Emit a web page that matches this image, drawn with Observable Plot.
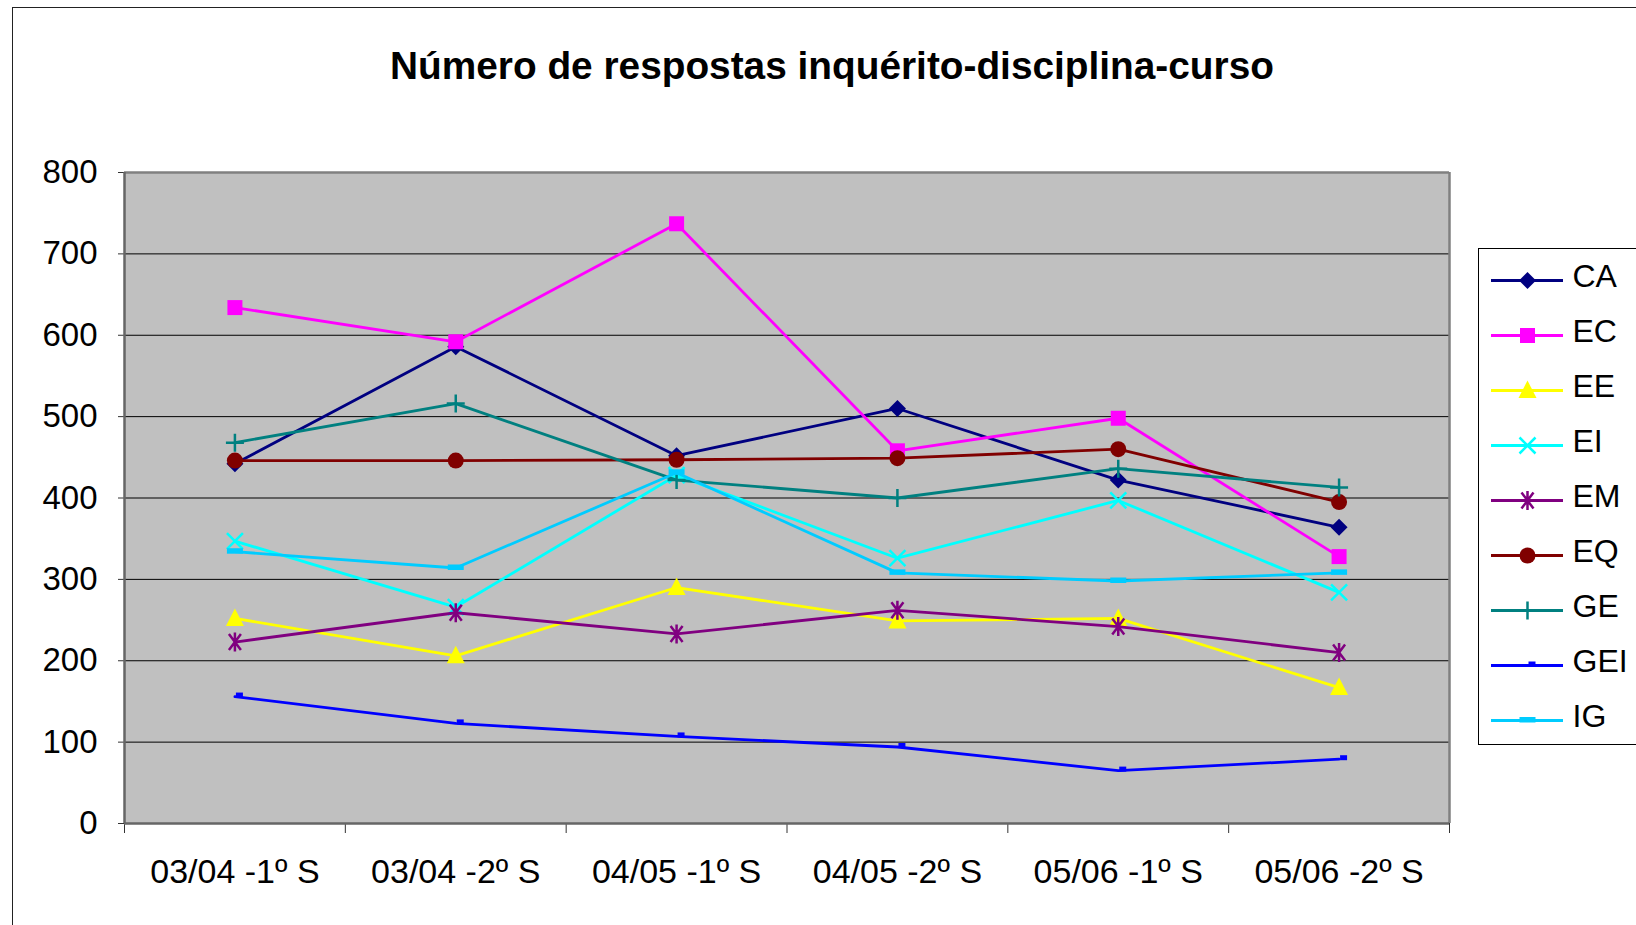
<!DOCTYPE html>
<html><head><meta charset="utf-8">
<script src="https://cdn.jsdelivr.net/npm/d3@7"></script>
<script src="https://cdn.jsdelivr.net/npm/@observablehq/plot@0.6"></script>
<style>
html,body{margin:0;padding:0;background:#fff;}
body{width:1636px;height:925px;overflow:hidden;position:relative;font-family:"Liberation Sans",Arial,sans-serif;}
#frame{position:absolute;left:12px;top:7px;width:1700px;height:1000px;border-left:1.5px solid #222;border-top:1.5px solid #222;box-sizing:border-box;z-index:5;pointer-events:none;}
#title{height:100px;box-sizing:border-box;padding-top:44px;padding-left:28px;text-align:center;font-size:38.8px;line-height:44px;font-weight:bold;color:#000;}
#legend{position:absolute;left:1478px;top:248px;width:220px;height:497px;border:1.5px solid #000;box-sizing:border-box;background:#fff;z-index:4;}
</style></head>
<body>
<div id="frame"></div>
<div id="title">Número de respostas inquérito-disciplina-curso</div>
<div id="chart"></div>
<div id="legend"></div>
<script>
const categories = ["03/04 -1º S","03/04 -2º S","04/05 -1º S","04/05 -2º S","05/06 -1º S","05/06 -2º S"];
const seriesNames = ["CA","EC","EE","EI","EM","EQ","GE","GEI","IG"];
const CA  = [442, 586, 452, 510, 422, 364];
const EC  = [634, 592, 737, 458, 498, 328];
const EE  = [252, 206, 290, 249, 252, 167];
const EI  = [347, 266, 428, 326, 397, 284];
const EM  = [223, 259, 233, 262, 242, 210];
const EQ  = [446, 446, 447, 449, 460, 395];
const GE  = [468, 516, 422, 400, 436, 413];
const GEI = [156, 123, 107, 94, 65, 79];
const IG  = [334, 314, 431, 308, 298, 308];
const seriesColors = ["#000080","#FF00FF","#FFFF00","#00FFFF","#800080","#800000","#008080","#0000FF","#00CCFF"];
const yTicks = [0,100,200,300,400,500,600,700,800];

const values = {CA, EC, EE, EI, EM, EQ, GE, GEI, IG};

const symbols = {
  CA: {draw(c){const r=8.5; c.moveTo(0,-r); c.lineTo(r,0); c.lineTo(0,r); c.lineTo(-r,0); c.closePath();}},
  EC: {draw(c){const h=7.5; c.rect(-h,-h,2*h,2*h);}},
  EE: {draw(c){c.moveTo(0,-10); c.lineTo(9,7.5); c.lineTo(-9,7.5); c.closePath();}},
  EI: {draw(c){const r=8; c.moveTo(-r,-r); c.lineTo(r,r); c.moveTo(-r,r); c.lineTo(r,-r);}},
  EM: {draw(c){c.moveTo(0,-9.5); c.lineTo(0,9.5); c.moveTo(-6,-8); c.lineTo(6,8); c.moveTo(-6,8); c.lineTo(6,-8);}},
  EQ: {draw(c){c.moveTo(8,0); c.arc(0,0,8,0,2*Math.PI);}},
  GE: {draw(c){c.moveTo(0,-9); c.lineTo(0,9); c.moveTo(-9,0); c.lineTo(9,0);}},
  GEI:{draw(c){c.rect(1,-4,7,5);}},
  IG: {draw(c){c.rect(-8,-3.5,16,5.5);}}
};
const filled = {CA:true, EC:true, EE:true, EI:false, EM:false, EQ:true, GE:false, GEI:true, IG:true};

const rows = [];
seriesNames.forEach((s) => values[s].forEach((v, i) => rows.push({series: s, idx: i + 0.5, cat: categories[i], value: v})));

const marks = [
  Plot.frame({fill: "#C0C0C0", stroke: null}),
  Plot.gridY(yTicks.filter(d => d > 0 && d < 800), {stroke: "#000", strokeOpacity: 1, strokeWidth: 1}),
  Plot.ruleY([800], {stroke: "#808080", strokeWidth: 2.5}),
  Plot.ruleX([6], {stroke: "#808080", strokeWidth: 2.5}),
  Plot.axisY({ticks: yTicks, tickSize: 6, tickPadding: 21, fontSize: 33, tickFormat: d => String(d), stroke: "#333", label: null}),
  Plot.axisX({ticks: d3.range(0, 7), tickSize: 10, tickFormat: () => "", stroke: "#333", label: null}),
  Plot.axisX({ticks: categories.map((d, i) => i + 0.5), tickSize: 0, tickPadding: 35, fontSize: 34, tickFormat: d => categories[Math.round(d - 0.5)], label: null}),
];
seriesNames.forEach((s, k) => {
  const data = rows.filter(r => r.series === s);
  const col = seriesColors[k];
  marks.push(Plot.line(data, {x: "idx", y: "value", stroke: col, strokeWidth: 2.8}));
  marks.push(Plot.dot(data, {x: "idx", y: "value", symbol: symbols[s],
    fill: filled[s] ? col : "none", stroke: filled[s] ? "none" : col, strokeWidth: 2.5}));
});
marks.push(Plot.ruleX([0], {stroke: "#666", strokeWidth: 2.5}));
marks.push(Plot.ruleY([0], {stroke: "#666", strokeWidth: 2.5}));

const chart = Plot.plot({
  width: 1636, height: 825,
  marginTop: 72, marginBottom: 102, marginLeft: 124, marginRight: 187,
  x: {domain: [0, 6], axis: null},
  y: {domain: [0, 800], axis: null},
  style: {fontFamily: "'Liberation Sans', Arial, sans-serif", background: "transparent", color: "#000"},
  marks
});
document.getElementById("chart").appendChild(chart);

// legend
const legMarks = [];
seriesNames.forEach((s, k) => {
  const col = seriesColors[k];
  legMarks.push(Plot.ruleY([s], {y: d => d, x1: 0, x2: 1, stroke: col, strokeWidth: 2.8}));
  legMarks.push(Plot.dot([s], {x: 0.5, y: d => d, symbol: symbols[s], fill: filled[s] ? col : "none", stroke: filled[s] ? "none" : col, strokeWidth: 2.5}));
});
legMarks.push(Plot.text(seriesNames, {x: 1, y: d => d, text: d => d, dx: 9, dy: -4, textAnchor: "start", fontSize: 32, fill: "#000"}));
const legend = Plot.plot({
  width: 217, height: 494, margin: 0,
  x: {domain: [0, 1], range: [12, 84], axis: null},
  y: {type: "point", domain: seriesNames, range: [31, 471], padding: 0, axis: null},
  style: {fontFamily: "'Liberation Sans', Arial, sans-serif", background: "transparent"},
  marks: legMarks
});
document.getElementById("legend").appendChild(legend);
</script>
</body></html>
